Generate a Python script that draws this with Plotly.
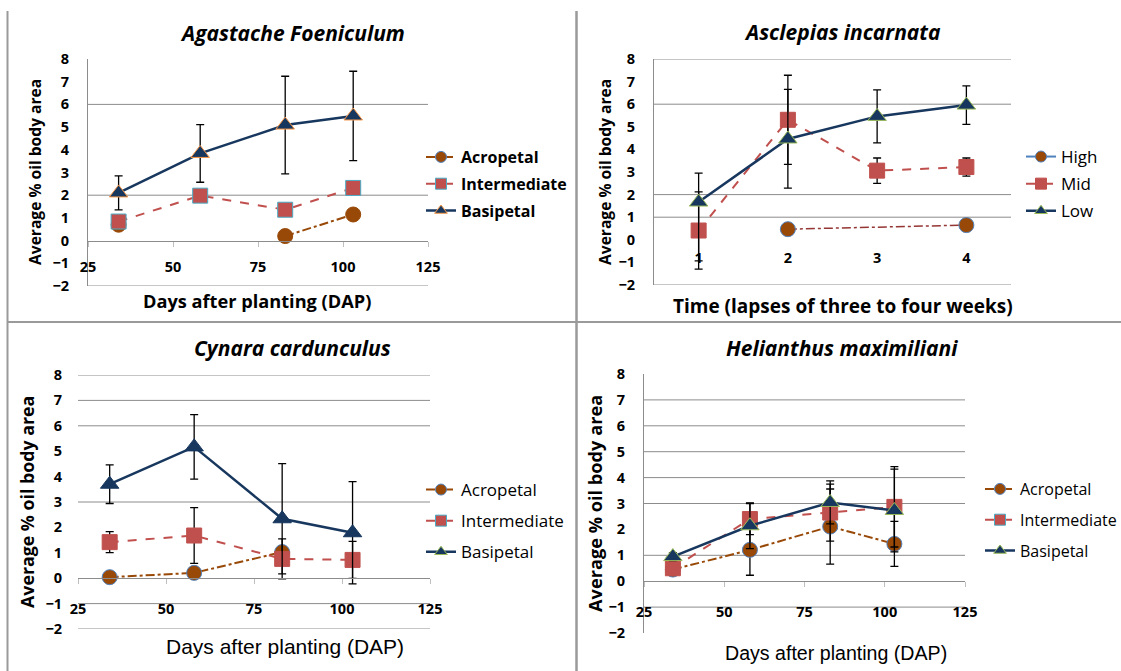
import plotly.graph_objects as go

W, H = 1121, 671

# ---------------- data ----------------
dap = [34, 58, 83, 103]
time_lapse = [1, 2, 3, 4]

agas_acro = [0.7, None, 0.2, 1.15]
agas_inter = [0.84, 1.98, 1.36, 2.32]
agas_basi = [2.1, 3.84, 5.09, 5.49]
agas_basi_err = [0.75, 1.27, 2.15, 1.97]

ascl_high = [None, 0.47, None, 0.65]
ascl_mid = [0.41, 5.31, 3.06, 3.22]
ascl_mid_err = [1.71, 1.97, 0.56, 0.40]
ascl_low = [1.67, 4.46, 5.46, 5.96]
ascl_low_err_plus = [1.28, 2.20, 1.17, 0.85]
ascl_low_err_minus = [2.60, 2.17, 1.17, 0.85]

cyn_acro = [0.04, 0.21, 1.03, None]
cyn_inter = [1.42, 1.68, 0.76, 0.72]
cyn_inter_err = [0.41, 1.10, 0.79, 0.73]
cyn_basi = [3.70, 5.17, 2.34, 1.79]
cyn_basi_err = [0.76, 1.27, 2.17, 2.01]

heli_acro = [0.45, 1.21, 2.11, 1.44]
heli_acro_err = [0.0, 0.98, 1.45, 0.87]
heli_inter = [0.50, 2.40, 2.65, 2.87]
heli_inter_err = [0.0, 0.60, 1.10, 1.55]
heli_basi = [0.95, 2.14, 3.04, 2.73]
heli_basi_err = [0.15, 0.88, 0.83, 1.60]

dap_ticks = [25, 50, 75, 100, 125]
y_ticks = [-2, -1, 0, 1, 2, 3, 4, 5, 6, 7, 8]

titles = ["Agastache Foeniculum", "Asclepias incarnata", "Cynara cardunculus", "Helianthus maximiliani"]
xtitles = ["Days after planting (DAP)", "Time (lapses of three to four weeks)",
           "Days after planting (DAP)", "Days after planting (DAP)"]
ytitle = "Average % oil body area"
names_pos = ["Acropetal", "Intermediate", "Basipetal"]
names_lvl = ["High", "Mid", "Low"]

# ---------------- styles ----------------
NAVY = "#17375E"
RED = "#C0504D"
BROWN = "#984807"
DKRED = "#943634"
BLUE = "#4F81BD"
ORANGE = "#F79646"
GREEN = "#9BBB59"
CYAN = "#4BACC6"
GRID = "#8C8C8C"
FONT = "Open Sans"
ARIAL = "Liberation Sans"


def px(x):
    return x / W


def py(y):
    return 1 - y / H


# panel plot areas in pixels: (left, right, top, bottom)
panels = [(88, 428, 59, 286), (654, 1011, 59, 285), (78, 430, 375, 629), (644, 965, 374, 633)]
grids = [[6, 2, -2], [8, 6, 2, 1, -2], [8, 7, 6, 3, -1, -2], [7, 6, 5, 4, 3, 1, -1]]

fig = go.Figure()
layout = dict(width=W, height=H, margin=dict(l=0, r=0, t=0, b=0, autoexpand=False),
              paper_bgcolor="white", plot_bgcolor="rgba(0,0,0,0)", showlegend=True)
shapes = []
annotations = []

for i, (l, r, t, b) in enumerate(panels):
    n = "" if i == 0 else str(i + 1)
    zero_pix = t + (b - t) * 8 / 10
    is_cat = (i == 1)
    xa = dict(domain=[px(l), px(r)], anchor="free", position=py(zero_pix),
              range=[0.5, 4.5] if is_cat else [25, 125],
              tickvals=time_lapse if is_cat else dap_ticks,
              showgrid=False, zeroline=False,
              showline=not is_cat, linecolor=GRID, linewidth=1,
              ticks="" if is_cat else "outside", ticklen=5, tickcolor="#BFBFBF",
              ticklabelstandoff=8 if i < 2 else 12,
              tickfont=dict(family=FONT, size=14.5, color="black", weight="bold"))
    ya = dict(domain=[py(b), py(t)], anchor="x" + n, range=[-2, 8], tickvals=y_ticks,
              showgrid=False, zeroline=False, showline=(i != 2), linecolor=GRID, linewidth=1,
              ticks="", ticklabelstandoff=15,
              tickfont=dict(family=FONT, size=14.5, color="black", weight="bold"))
    layout["xaxis" + n] = xa
    layout["yaxis" + n] = ya
    for g in grids[i]:
        shapes.append(dict(type="line", xref="x" + n + " domain", x0=0, x1=1,
                           yref="y" + n, y0=g, y1=g, line=dict(color=GRID, width=1), layer="below"))

# panel separators
shapes += [
    dict(type="line", xref="paper", yref="paper", x0=px(7.5), x1=px(7.5), y0=py(11), y1=0,
         line=dict(color="#9A9A9A", width=2)),
    dict(type="line", xref="paper", yref="paper", x0=px(576.5), x1=px(576.5), y0=py(11), y1=0,
         line=dict(color="#9A9A9A", width=2.5)),
    dict(type="line", xref="paper", yref="paper", x0=px(7), x1=1, y0=py(322), y1=py(322),
         line=dict(color="#9A9A9A", width=2)),
]

# titles
title_pos = [(292, 33), (842, 32), (292, 348), (842, 348)]
for (x, y), txt in zip(title_pos, titles):
    annotations.append(dict(text="<b><i>%s</i></b>" % txt, x=px(x), y=py(y), xref="paper", yref="paper",
                            showarrow=False, xanchor="center", yanchor="middle",
                            font=dict(family=FONT, size=21, color="black")))
xt_pos = [(257, 301), (843, 306), (285, 646), (836, 653)]
xt_fonts = [dict(family=FONT, size=18.2, color="black", weight="bold"),
            dict(family=FONT, size=19, color="black", weight="bold"),
            dict(family=ARIAL, size=21, color="black"),
            dict(family=ARIAL, size=19.6, color="black")]
for (x, y), txt, f in zip(xt_pos, xtitles, xt_fonts):
    annotations.append(dict(text=txt, x=px(x), y=py(y), xref="paper", yref="paper", showarrow=False,
                            xanchor="center", yanchor="middle", font=f))
yt_pos = [(35, 172), (605, 172), (27, 502), (595, 504)]
yt_sizes = [15.6, 15.6, 17.8, 18.2]
for (x, y), s in zip(yt_pos, yt_sizes):
    annotations.append(dict(text=ytitle, x=px(x), y=py(y), xref="paper", yref="paper", showarrow=False,
                            textangle=-90, xanchor="center", yanchor="middle",
                            font=dict(family=FONT, size=s, color="black", weight="bold")))


def err(vals, minus=None):
    d = dict(type="data", array=vals, visible=True, color="black", thickness=1.3, width=4)
    if minus is not None:
        d["symmetric"] = False
        d["arrayminus"] = minus
    return d


def add(x, y, ax, line, marker, error=None, connect=False):
    n = "" if ax == 1 else str(ax)
    kw = dict(x=x, y=y, xaxis="x" + n, yaxis="y" + n, mode="lines+markers", line=line,
              marker=marker, showlegend=False, connectgaps=connect, hoverinfo="skip")
    if error is not None:
        kw["error_y"] = error
    fig.add_trace(go.Scatter(**kw))


def leg(name, legend, line, marker, rank):
    fig.add_trace(go.Scatter(x=[None], y=[None], name=name, legend=legend, mode="lines+markers",
                             line=line, marker=marker, legendgroup=legend + name, legendrank=rank))


acro_line = dict(color=BROWN, width=2, dash="dashdot")
inter_line = dict(color=RED, width=2, dash="dash")
basi_line = dict(color=NAVY, width=2.5)
circ = lambda edge: dict(symbol="circle", size=15, color=BROWN, line=dict(color=edge, width=1))
sq = lambda edge: dict(symbol="square", size=15, color=RED, line=dict(color=edge, width=1))
tri = lambda edge: dict(symbol="triangle-up", size=16, color=NAVY, line=dict(color=edge, width=1))

# Panel 1
add(dap, agas_acro, 1, acro_line, circ(BROWN))
add(dap, agas_inter, 1, inter_line, sq(CYAN))
add(dap, agas_basi, 1, basi_line, tri(ORANGE), err(agas_basi_err))
# Panel 2
add(time_lapse, ascl_high, 2, dict(color=DKRED, width=1.5, dash="dashdot"), circ(BLUE), connect=True)
add(time_lapse, ascl_mid, 2, inter_line, sq(RED), err(ascl_mid_err))
add(time_lapse, ascl_low, 2, basi_line, tri(GREEN), err(ascl_low_err_plus, ascl_low_err_minus))
# Panel 3
add(dap, cyn_acro, 3, acro_line, circ(BLUE))
add(dap, cyn_inter, 3, inter_line, sq(RED), err(cyn_inter_err))
add(dap, cyn_basi, 3, basi_line, tri(NAVY), err(cyn_basi_err))
# Panel 4
add(dap, heli_acro, 4, acro_line, circ(BLUE), err(heli_acro_err))
add(dap, heli_inter, 4, inter_line, sq(RED), err(heli_inter_err))
add(dap, heli_basi, 4, basi_line, tri(GREEN), err(heli_basi_err))

# legend entries
lm = lambda m: dict(m, size=11)
for k, lg in enumerate(["legend", "legend3", "legend4"]):
    leg(names_pos[0], lg, acro_line, lm(circ(BLUE)), 1)
    leg(names_pos[1], lg, inter_line, lm(sq(CYAN)), 2)
    leg(names_pos[2], lg, basi_line, lm(tri(ORANGE if k == 0 else GREEN)), 3)
leg(names_lvl[0], "legend2", dict(color=BLUE, width=2), lm(circ(BLUE)), 1)
leg(names_lvl[1], "legend2", inter_line, lm(sq(RED)), 2)
leg(names_lvl[2], "legend2", basi_line, lm(tri(GREEN)), 3)

legend_common = dict(xanchor="left", yanchor="top", bgcolor="rgba(0,0,0,0)", traceorder="grouped",
                     itemwidth=30)
layout["legend"] = dict(legend_common, x=px(421), y=py(140), tracegroupgap=3,
                        font=dict(family=FONT, size=16, color="black", weight="bold"))
layout["legend2"] = dict(legend_common, x=px(1021), y=py(139), tracegroupgap=2,
                         font=dict(family=FONT, size=17, color="black"))
layout["legend3"] = dict(legend_common, x=px(421), y=py(472), tracegroupgap=6,
                         font=dict(family=FONT, size=17, color="black"))
layout["legend4"] = dict(legend_common, x=px(980), y=py(472), tracegroupgap=7,
                         font=dict(family=FONT, size=16, color="black"))

layout["shapes"] = shapes
layout["annotations"] = annotations
fig.update_layout(**layout)
fig.write_html("out.html", post_script="document.body.style.margin='0';document.body.style.overflow='hidden';")
